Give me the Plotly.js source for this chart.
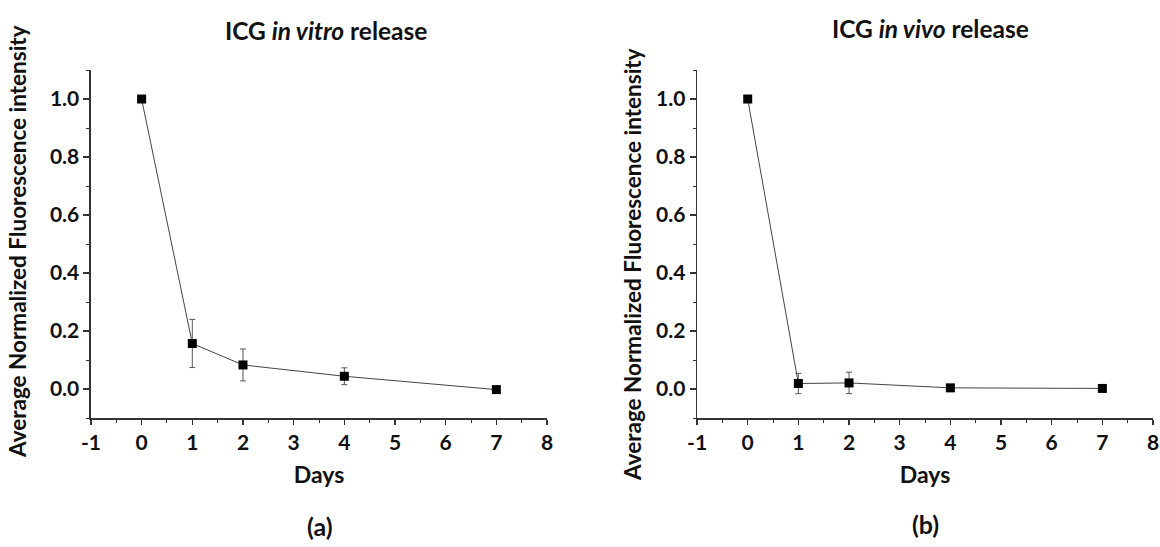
<!DOCTYPE html>
<html>
<head>
<meta charset="utf-8">
<script src="https://cdn.plot.ly/plotly-3.0.1.min.js"></script>
<style>html,body{margin:0;padding:0;background:#fff;}#chart{width:1160px;height:547px;}</style>
</head>
<body>
<div id="chart"></div>
<script>
// Data
const days = [0, 1, 2, 4, 7];
const vitroValues = [1.0, 0.157, 0.083, 0.044, -0.002];
const vitroErrors = [0, 0.083, 0.055, 0.029, 0];
const vivoValues = [1.0, 0.019, 0.021, 0.004, 0.002];
const vivoErrors = [0, 0.035, 0.037, 0, 0];
const xTickVals = [-1, 0, 1, 2, 3, 4, 5, 6, 7, 8];
const xTickText = ['-1', '0', '1', '2', '3', '4', '5', '6', '7', '8'];
const yTickVals = [0, 0.2, 0.4, 0.6, 0.8, 1.0];
const yTickText = ['0.0', '0.2', '0.4', '0.6', '0.8', '1.0'];
const panelTitles = ['ICG <i>in vitro</i> release', 'ICG <i>in vivo</i> release'];
const panelLabels = ['(a)', '(b)'];
const xTitle = 'Days';
const yTitle = 'Average Normalized Fluorescence intensity';

const FONT = 'Lato, "Open Sans", sans-serif';

function series(y, err, xa, ya) {
  return {
    type: 'scatter', mode: 'lines+markers',
    x: days, y: y, xaxis: xa, yaxis: ya,
    line: {color: '#444', width: 1},
    marker: {symbol: 'square', size: 9, color: '#000'},
    error_y: {type: 'data', array: err, visible: true, color: '#555', thickness: 1, width: 3},
    showlegend: false, hoverinfo: 'x+y'
  };
}

function xAxis(domain, anchor) {
  return {
    domain: domain, anchor: anchor, range: [-1, 8],
    tickvals: xTickVals, ticktext: xTickText, ticks: 'outside', ticklen: 5, tickwidth: 1.2, tickcolor: '#333',
    minor: {dtick: 0.5, tick0: -1, ticks: 'outside', ticklen: 3, tickcolor: '#333', tickwidth: 1},
    showline: true, linecolor: '#333', linewidth: 1.5, showgrid: false, zeroline: false,
    tickfont: {family: FONT, size: 21, weight: 'bold', color: '#111'},
    title: {text: xTitle, font: {family: FONT, size: 23, weight: 'bold', color: '#111'}, standoff: 14}
  };
}
function yAxis(domain, anchor) {
  return {
    domain: domain, anchor: anchor, range: [-0.1, 1.1],
    tickvals: yTickVals, ticktext: yTickText, ticks: 'outside', ticklen: 6, tickwidth: 1.2, tickcolor: '#333',
    minor: {dtick: 0.1, tick0: -0.1, ticks: 'outside', ticklen: 3, tickcolor: '#333', tickwidth: 1},
    showline: true, linecolor: '#333', linewidth: 1.5, showgrid: false, zeroline: false,
    tickfont: {family: FONT, size: 21, weight: 'bold', color: '#111'}
  };
}

const yDom = [0.2358, 0.872];
const data = [
  series(vitroValues, vitroErrors, 'x', 'y'),
  series(vivoValues, vivoErrors, 'x2', 'y2')
];

const titleFont = {family: FONT, size: 24.5, weight: 'bold', color: '#111'};
const yTitleFont = {family: FONT, size: 22.5, weight: 'bold', color: '#111'};
const labelFont = {family: FONT, size: 25, weight: 'bold', color: '#111'};

const layout = {
  width: 1160, height: 547,
  margin: {l: 0, r: 0, t: 0, b: 0},
  paper_bgcolor: '#fff', plot_bgcolor: '#fff',
  xaxis: xAxis([0.0784, 0.4716], 'y'),
  yaxis: yAxis(yDom, 'x'),
  xaxis2: xAxis([0.6009, 0.9940], 'y2'),
  yaxis2: yAxis(yDom, 'x2'),
  annotations: [
    {text: panelTitles[0], xref: 'paper', yref: 'paper', x: 326/1160, y: 1 - 30/547, showarrow: false, xanchor: 'center', yanchor: 'middle', font: titleFont},
    {text: panelTitles[1], xref: 'paper', yref: 'paper', x: 930/1160, y: 1 - 28/547, showarrow: false, xanchor: 'center', yanchor: 'middle', font: titleFont},
    {text: yTitle, textangle: -90, xref: 'paper', yref: 'paper', x: 17/1160, y: 1 - 242/547, showarrow: false, xanchor: 'center', yanchor: 'middle', font: yTitleFont},
    {text: yTitle, textangle: -90, xref: 'paper', yref: 'paper', x: 632/1160, y: 1 - 265/547, showarrow: false, xanchor: 'center', yanchor: 'middle', font: yTitleFont},
    {text: panelLabels[0], xref: 'paper', yref: 'paper', x: 320/1160, y: 1 - 526/547, showarrow: false, xanchor: 'center', yanchor: 'middle', font: labelFont},
    {text: panelLabels[1], xref: 'paper', yref: 'paper', x: 925/1160, y: 1 - 524/547, showarrow: false, xanchor: 'center', yanchor: 'middle', font: labelFont}
  ]
};

Plotly.newPlot('chart', data, layout, {displayModeBar: false, staticPlot: true});
</script>
</body>
</html>
